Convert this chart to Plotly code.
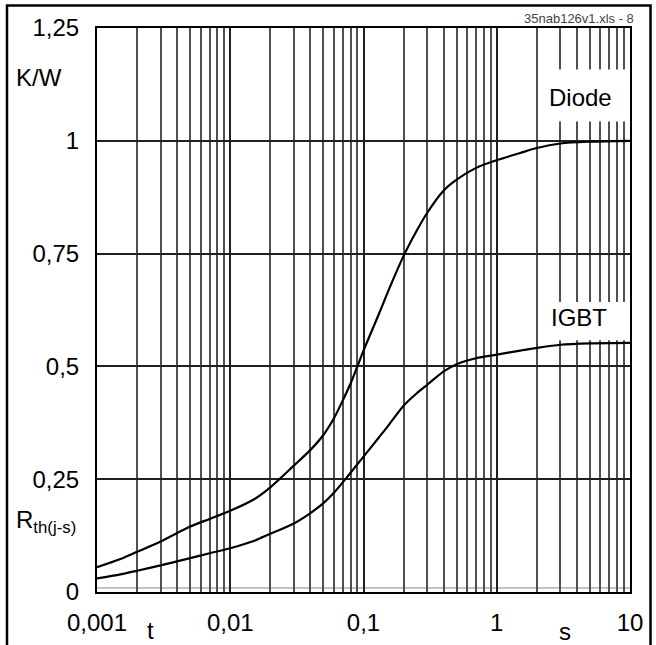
import math
import plotly.graph_objects as go

# Transient thermal impedance Z_th(j-s) versus pulse duration
t_diode = [0.001, 0.0015, 0.002, 0.003, 0.005, 0.007, 0.01, 0.015, 0.02, 0.03, 0.04, 0.05, 0.06, 0.07,
           0.08, 0.09, 0.1, 0.13, 0.16, 0.2, 0.25, 0.3, 0.4, 0.5, 0.7, 1, 1.5, 2, 3, 5, 10]
z_diode = [0.055, 0.073, 0.089, 0.112, 0.145, 0.162, 0.180, 0.205, 0.232, 0.280, 0.315, 0.348, 0.385, 0.425,
           0.462, 0.500, 0.535, 0.615, 0.680, 0.745, 0.800, 0.840, 0.890, 0.914, 0.940, 0.957, 0.973, 0.984,
           0.994, 0.998, 1.0]

t_igbt = [0.001, 0.0015, 0.002, 0.003, 0.005, 0.007, 0.01, 0.015, 0.02, 0.03, 0.04, 0.05, 0.06, 0.075,
          0.1, 0.13, 0.15, 0.2, 0.25, 0.3, 0.4, 0.5, 0.7, 1, 1.5, 2, 3, 5, 10]
z_igbt = [0.030, 0.039, 0.047, 0.059, 0.075, 0.086, 0.097, 0.113, 0.129, 0.152, 0.175, 0.197, 0.220, 0.254,
          0.300, 0.342, 0.365, 0.413, 0.440, 0.459, 0.489, 0.505, 0.518, 0.526, 0.535, 0.541, 0.548, 0.551,
          0.552]

x_ticks = [0.001, 0.01, 0.1, 1, 10]
x_labels = ["0,001", "0,01", "0,1", "1", "10"]
y_ticks = [0, 0.25, 0.5, 0.75, 1, 1.25]
y_labels = ["0", "0,25", "0,5", "0,75", "1", "1,25"]

FONT = "Liberation Sans, Arial, sans-serif"
lg = math.log10

fig = go.Figure()
for xs, ys, name in [(t_diode, z_diode, "Diode"), (t_igbt, z_igbt, "IGBT")]:
    fig.add_trace(go.Scatter(x=xs, y=ys, mode="lines", name=name,
                             line=dict(color="black", width=2.2, shape="spline", smoothing=0.8),
                             showlegend=False))

fig.update_layout(
    width=656, height=645,
    margin=dict(l=97, r=26, t=28, b=53, pad=0),
    paper_bgcolor="white", plot_bgcolor="white",
    font=dict(family=FONT, size=24, color="black"),
)

fig.update_xaxes(
    type="log", range=[-3, 1], automargin=False,
    tickvals=x_ticks, ticktext=x_labels, ticks="",
    ticklabelstandoff=8,
    showgrid=True, gridcolor="#202020", gridwidth=1.5,
    minor=dict(dtick="D1", showgrid=True, gridcolor="#505050", gridwidth=1.5, ticks=""),
    showline=True, linecolor="black", linewidth=2, mirror=True,
    zeroline=False,
)
fig.update_yaxes(
    range=[0, 1.25], automargin=False,
    tickvals=y_ticks, ticktext=y_labels, ticks="",
    ticklabelstandoff=11,
    showgrid=True, gridcolor="#202020", gridwidth=1.5,
    showline=True, linecolor="black", linewidth=2, mirror=True,
    zeroline=False,
)

# thin rule just above the zero line
fig.add_shape(type="line", xref="paper", yref="y", x0=0, x1=1, y0=0.009, y1=0.009,
              line=dict(color="#8a8a8a", width=1), layer="below")

# white label boxes that interrupt the grid
for y0, y1 in [(1.043, 1.158), (0.558, 0.643)]:
    fig.add_shape(type="rect", xref="x", yref="y", x0=2.06, x1=9.8, y0=y0, y1=y1,
                  fillcolor="white", line=dict(width=0), layer="between")

# outer frame around the figure
fig.add_shape(type="rect", xref="paper", yref="paper",
              x0=(7 - 97) / 533, x1=(650.5 - 97) / 533,
              y0=(592 - 700) / 563.5, y1=(592 - 6) / 563.5,
              line=dict(color="black", width=2.5), fillcolor="rgba(0,0,0,0)")

ann = [
    dict(text="Diode", x=lg(4.25), y=1.097, xref="x", yref="y", xanchor="center", yanchor="middle"),
    dict(text="IGBT", x=lg(4.14), y=0.609, xref="x", yref="y", xanchor="center", yanchor="middle"),
    dict(text="K/W", x=(14 - 97) / 533, y=(592 - 77.5) / 563.5, xref="paper", yref="paper",
         xanchor="left", yanchor="middle"),
    dict(text="R<sub>th(j-s)</sub>", x=(14 - 97) / 533, y=(592 - 522) / 563.5, xref="paper", yref="paper",
         xanchor="left", yanchor="middle"),
    dict(text="t", x=(150 - 97) / 533, y=(592 - 630) / 563.5, xref="paper", yref="paper",
         xanchor="center", yanchor="middle"),
    dict(text="s", x=(565 - 97) / 533, y=(592 - 631) / 563.5, xref="paper", yref="paper",
         xanchor="center", yanchor="middle"),
    dict(text="35nab126v1.xls - 8", x=(636 - 97) / 533, y=(592 - 19) / 563.5, xref="paper", yref="paper",
         xanchor="right", yanchor="middle", font=dict(size=13, color="#444444")),
]
for a in ann:
    fig.add_annotation(showarrow=False, **a)

fig.write_html("out.html")
